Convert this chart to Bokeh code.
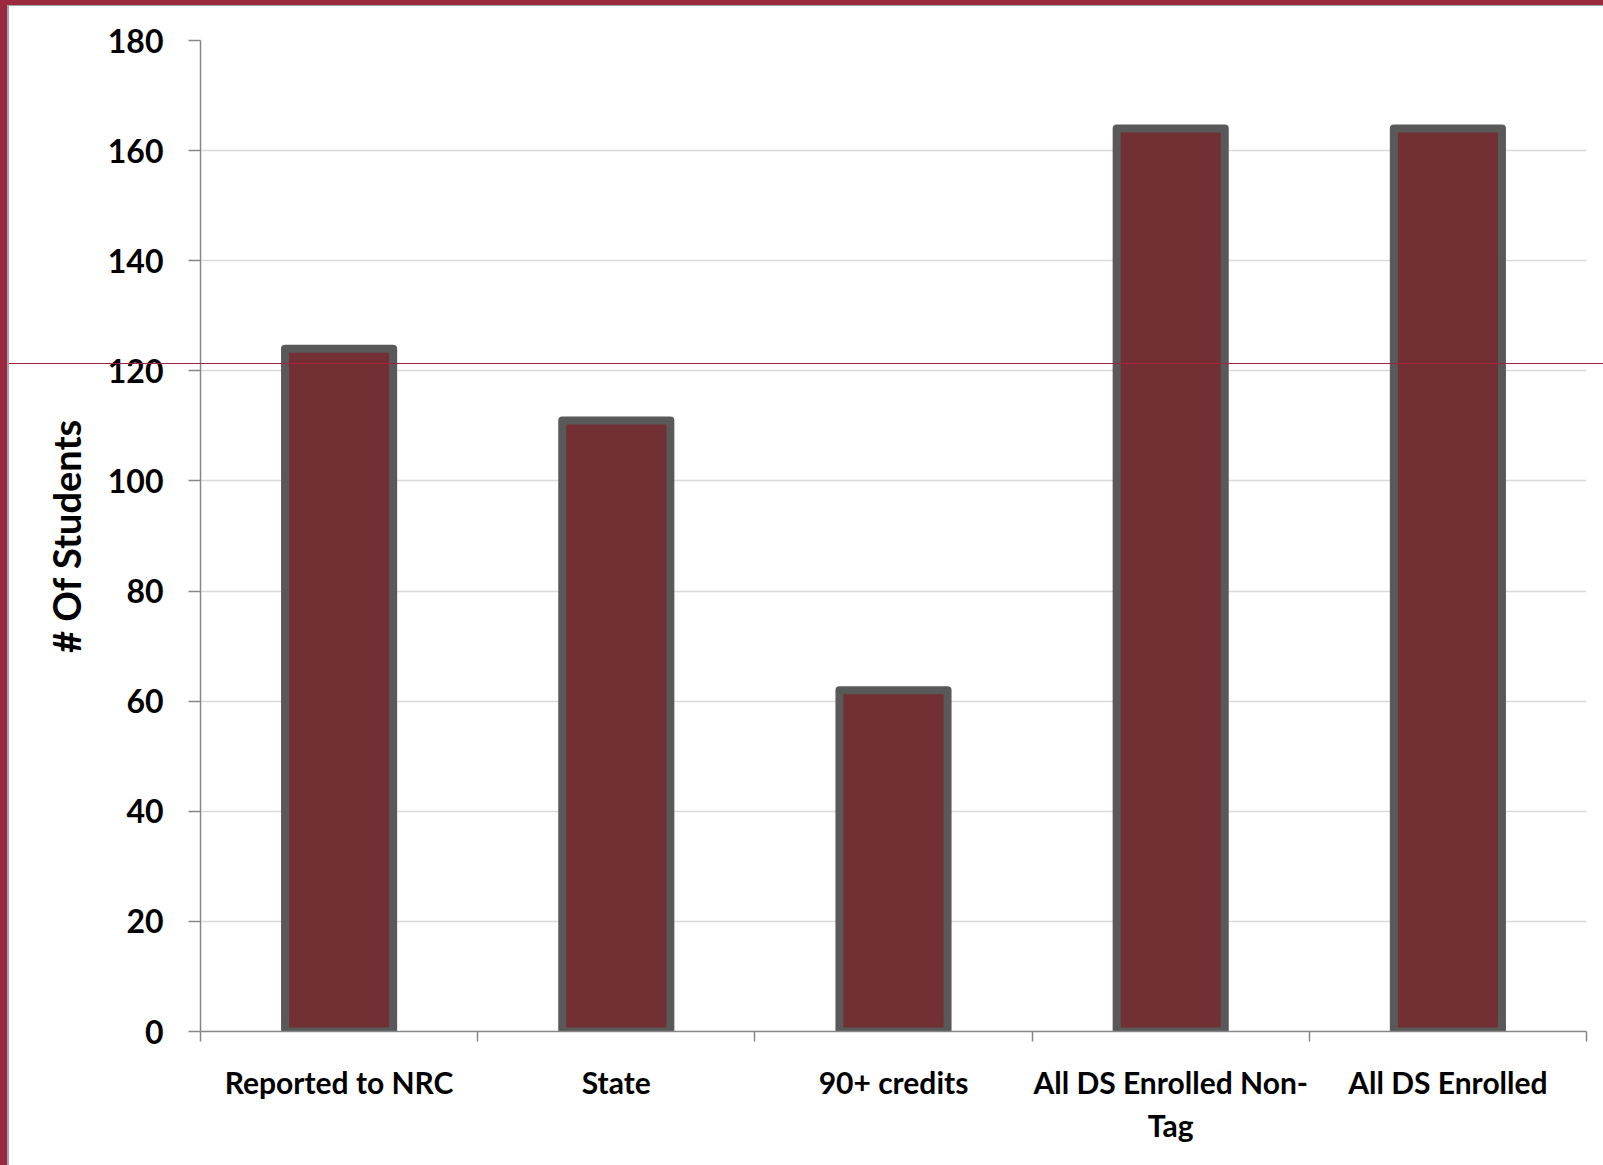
from bokeh.plotting import figure
from bokeh.models import (FactorRange, Range1d, LinearAxis, FixedTicker,
                          ColumnDataSource, InlineStyleSheet)
from bokeh.embed import file_html
from bokeh.resources import INLINE

# Student counts by group
categories = ["Reported to NRC", "State", "90+ credits",
              "All DS Enrolled Non-Tag", "All DS Enrolled"]
students = [124, 111, 62, 164, 164]
y_ticks = [0, 20, 40, 60, 80, 100, 120, 140, 160, 180]
# tick labels as wrapped under the bars (first and second row)
label_row1 = ["Reported to NRC", "State", "90+ credits",
              "All DS Enrolled Non-", "All DS Enrolled"]
label_row2 = ["", "", "", "Tag", ""]

FONT = "Lato"
AXIS_GRAY = "#868686"

src = ColumnDataSource(data=dict(cat=categories, n=students))

p = figure(width=1603, height=1165,
           x_range=FactorRange(*categories), y_range=Range1d(0, 180),
           x_axis_location=None, y_axis_location="left",
           toolbar_location=None, output_backend="svg",
           min_border_left=200, min_border_right=17,
           min_border_top=40, min_border_bottom=134)
p.outline_line_color = None
p.background_fill_color = "white"
p.border_fill_color = "white"
p.xgrid.visible = False

# category centres and boundaries in the factor range's synthetic coordinates
n_cat = len(categories)
centers = [i + 0.5 for i in range(n_cat)]
edges = list(range(n_cat + 1))

# y axis and horizontal gridlines
yax = p.yaxis[0]
yax.ticker = FixedTicker(ticks=y_ticks)
yax.axis_line_color = AXIS_GRAY
yax.axis_line_width = 1.5
yax.major_tick_line_color = AXIS_GRAY
yax.major_tick_line_width = 1.5
yax.major_tick_out = 12
yax.major_tick_in = 0
yax.minor_tick_line_color = None
yax.major_label_standoff = 25
yax.major_label_text_font = FONT
yax.major_label_text_font_style = "bold"
yax.major_label_text_font_size = "32px"
yax.major_label_text_color = "black"
yax.axis_label = "# Of Students"
yax.axis_label_text_font = FONT
yax.axis_label_text_font_style = "bold"
yax.axis_label_text_font_size = "38px"
yax.axis_label_text_color = "black"
yax.axis_label_standoff = 16

p.ygrid.ticker = FixedTicker(ticks=y_ticks)
p.ygrid.grid_line_color = "#d9d9d9"
p.ygrid.grid_line_width = 1.5

# x axis line with ticks between the categories
edge_axis = LinearAxis(ticker=FixedTicker(ticks=edges),
                       axis_line_color=AXIS_GRAY, axis_line_width=1.5,
                       major_tick_line_color=AXIS_GRAY, major_tick_line_width=1.5,
                       major_tick_out=10, major_tick_in=0,
                       minor_tick_line_color=None,
                       major_label_text_font_size="0px",
                       major_label_text_color=None, major_label_standoff=0)
p.add_layout(edge_axis, "below")

# category labels, two rows centred under each bar
label_style = dict(axis_line_color=None, major_tick_line_color=None,
                   minor_tick_line_color=None,
                   major_tick_out=0, major_tick_in=0,
                   major_label_text_font=FONT,
                   major_label_text_font_style="bold",
                   major_label_text_font_size="30px",
                   major_label_text_color="black")
row1_axis = LinearAxis(ticker=FixedTicker(ticks=centers),
                       major_label_overrides=dict(zip(centers, label_row1)),
                       major_label_standoff=22, **label_style)
p.add_layout(row1_axis, "below")
row2_ticks = [c for c, t in zip(centers, label_row2) if t]
row2_axis = LinearAxis(ticker=FixedTicker(ticks=row2_ticks),
                       major_label_overrides={c: t for c, t in zip(centers, label_row2) if t},
                       major_label_standoff=4, **label_style)
p.add_layout(row2_axis, "below")

# bars
p.vbar(x="cat", top="n", bottom=0, width=0.39, source=src,
       fill_color="#723034", line_color="#595959", line_width=8,
       line_join="round")

# slide frame: red edges with a thin grey inner line, and a red rule
p.stylesheets = [InlineStyleSheet(css="""
:host::before {
  content: ""; position: absolute; left: 0; top: 0; right: 0; bottom: 0;
  border-left: 7px solid #9b2a3e; border-top: 5px solid #9b2a3e;
  background: linear-gradient(to bottom, transparent 358px, #a3223a 358px,
              #a3223a 359.5px, transparent 359.5px);
  pointer-events: none; z-index: 1000;
}
:host::after {
  content: ""; position: absolute; left: 7px; top: 5px; right: 0; bottom: 0;
  border-left: 2px solid #a6a6a6; border-top: 1.5px solid #a6a6a6;
  pointer-events: none; z-index: 1001;
}
""")]

open("out.html", "w").write(file_html(p, INLINE))
